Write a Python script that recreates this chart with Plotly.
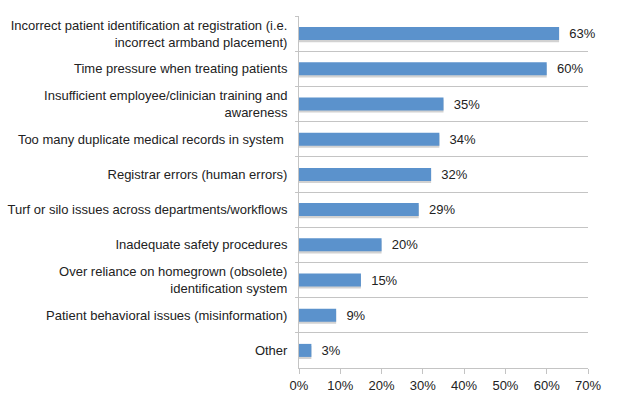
import plotly.graph_objects as go

categories = [
    "Incorrect patient identification at registration (i.e.<br>incorrect armband placement)",
    "Time pressure when treating patients",
    "Insufficient employee/clinician training and<br>awareness",
    "Too many duplicate medical records in system ",
    "Registrar errors (human errors)",
    "Turf or silo issues across departments/workflows",
    "Inadequate safety procedures",
    "Over reliance on homegrown (obsolete)<br>identification system",
    "Patient behavioral issues (misinformation)",
    "Other",
]
values = [63, 60, 35, 34, 32, 29, 20, 15, 9, 3]
x_ticks = [0, 10, 20, 30, 40, 50, 60, 70]

BAR = "#5b92cc"
SHADOW = "#d2d2d2"
GRID = "#c4c4c4"
FONT = "Liberation Sans, Arial, sans-serif"
BAR_W = 0.37

fig = go.Figure()
# soft shadow under each bar
fig.add_trace(go.Bar(
    x=values,
    y=categories,
    orientation="h",
    width=BAR_W,
    offset=-BAR_W / 2 + 0.06,
    marker=dict(color=SHADOW, line=dict(width=0)),
    hoverinfo="skip",
))
fig.add_trace(go.Bar(
    x=values,
    y=categories,
    orientation="h",
    width=BAR_W,
    offset=-BAR_W / 2,
    marker=dict(color=BAR, line=dict(width=0)),
    text=[f"  {v}%" for v in values],
    textposition="outside",
    constraintext="none",
    textfont=dict(family=FONT, size=13, color="#222222"),
    cliponaxis=False,
    hoverinfo="skip",
))

fig.update_layout(
    width=628,
    height=406,
    margin=dict(l=299, r=40, t=16, b=38),
    paper_bgcolor="white",
    plot_bgcolor="white",
    showlegend=False,
    barmode="overlay",
    uniformtext=dict(minsize=13, mode="show"),
    font=dict(family=FONT, size=13, color="#222222"),
)
fig.update_xaxes(
    range=[0, 70],
    tickvals=x_ticks,
    ticktext=[f"{t}%" for t in x_ticks],
    showgrid=False,
    zeroline=False,
    showline=True,
    linecolor=GRID,
    linewidth=1,
    ticks="outside",
    ticklen=5,
    tickcolor=GRID,
    tickfont=dict(family=FONT, size=13, color="#222222"),
    automargin=False,
    fixedrange=True,
)
fig.update_yaxes(
    type="category",
    categoryorder="array",
    categoryarray=categories,
    autorange="reversed",
    tickson="boundaries",
    showgrid=True,
    gridcolor=GRID,
    gridwidth=1,
    showline=True,
    linecolor=GRID,
    ticks="outside",
    ticklen=3,
    tickcolor=GRID,
    ticklabelstandoff=8,
    zeroline=False,
    automargin=False,
    tickfont=dict(family=FONT, size=13, color="#222222"),
    fixedrange=True,
)

fig.write_html(
    "out.html",
    config={"displayModeBar": False},
    post_script="document.body.style.margin='0px';document.body.style.overflow='hidden';",
)
